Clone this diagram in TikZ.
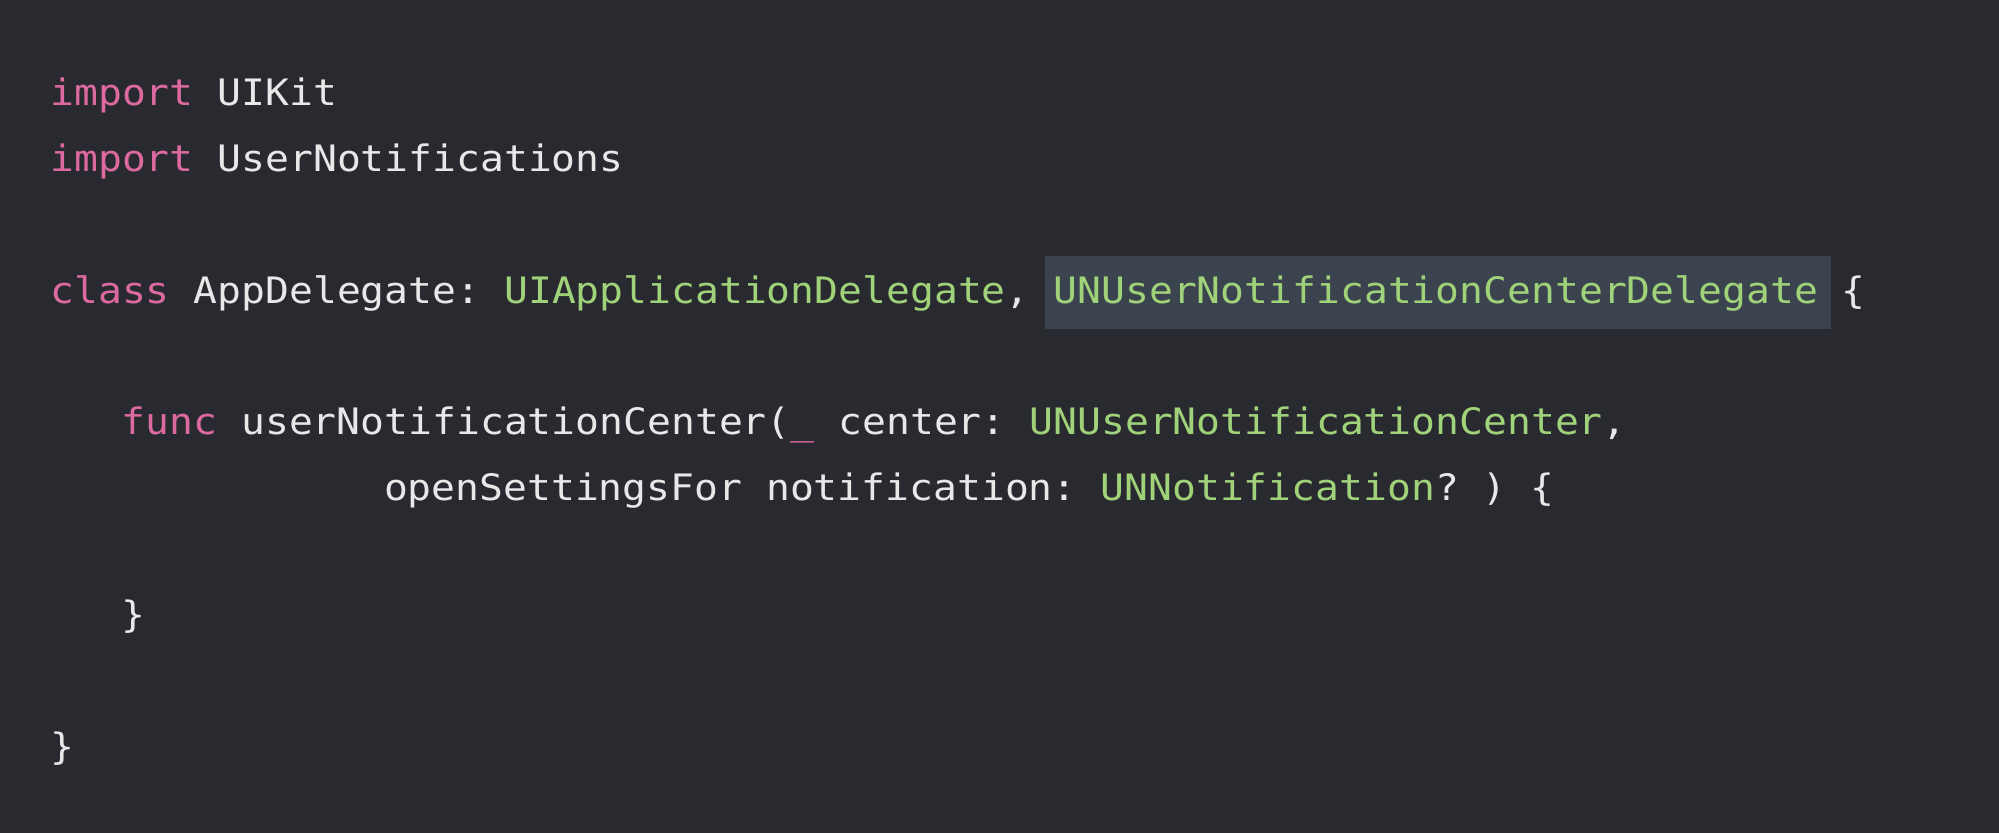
\documentclass[tikz,border=0pt]{standalone}
\usepackage{fontspec}
\setmonofont[FakeStretch=1.09]{DejaVu Sans Mono}
\usepackage{tikz}

\definecolor{bgcol}{HTML}{292A2F}
\definecolor{plaincol}{HTML}{E8E8E8}
\definecolor{kwcol}{HTML}{DC6AA0}
\definecolor{typecol}{HTML}{A0D27A}
\definecolor{hlcol}{HTML}{3A434E}

\newcommand{\kw}[1]{\textcolor{kwcol}{#1}}
\newcommand{\ty}[1]{\textcolor{typecol}{#1}}

\tikzset{
  codeline/.style={anchor=base west, inner sep=0pt, text=plaincol,
    font=\ttfamily\fontsize{18.2pt}{18.2pt}\selectfont},
  hlbox/.style={fill=hlcol, draw=none, anchor=north west, inner sep=0pt}
}

\begin{document}
\begin{tikzpicture}[x=0.5pt, y=-0.5pt]

% Background
\fill[bgcol] (0,0) rectangle (1999,833);
\useasboundingbox (0,0) rectangle (1999,833);

% Imports
\node[codeline] (imp1) at (50,106) {\kw{import} UIKit};
\node[codeline] (imp2) at (50,171.7) {\kw{import} UserNotifications};

% Class declaration with highlighted protocol
\node[hlbox, minimum width=393pt, minimum height=36.5pt] (hl) at (1045,256) {};
\node[codeline] (cls) at (50,303.1) {\kw{class} AppDelegate: \ty{UIApplicationDelegate}, \ty{UNUserNotificationCenterDelegate} \{};

% Delegate method
\node[codeline] (fn1) at (121.5,434.5) {\kw{func} userNotificationCenter(\kw{\_} center: \ty{UNUserNotificationCenter},};
\node[codeline] (fn2) at (383.6,500.2) {openSettingsFor notification: \ty{UNNotification}? ) \{};

% Closing braces
\node[codeline] (fnend) at (121.5,628) {\}};
\node[codeline] (clsend) at (50,759.5) {\}};

\end{tikzpicture}
\end{document}
